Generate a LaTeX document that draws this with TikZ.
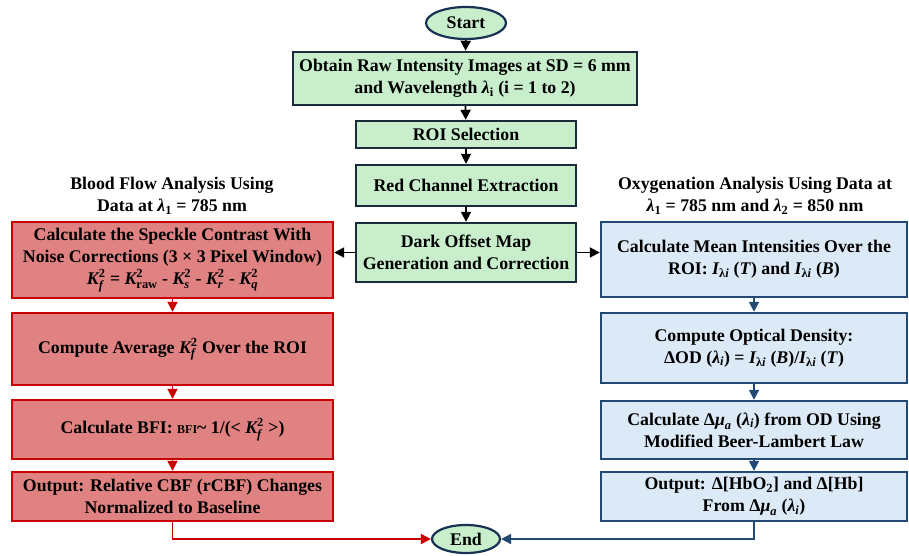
\documentclass[tikz,border=0pt]{standalone}
\usepackage{amsmath}
\usepackage{fontspec}
\setmainfont{Liberation Serif}
\usetikzlibrary{arrows.meta,shapes.geometric}
\definecolor{gfill}{RGB}{200,238,204}
\definecolor{gline}{RGB}{24,44,60}
\definecolor{rfill}{RGB}{224,130,130}
\definecolor{rline}{RGB}{200,0,0}
\definecolor{bfill}{RGB}{220,233,246}
\definecolor{bline}{RGB}{34,72,118}
\newcommand{\SubSup}[3]{\ensuremath{\text{#1}^{\text{#2}}_{\text{#3}}}}
\newcommand{\SubOnly}[2]{\ensuremath{\text{#1}_{\text{#2}}}}
\newcommand{\Kf}{\SubSup{\itshape K}{2}{\itshape f}}
\tikzset{
  base/.style={font=\fontsize{17.8}{22}\selectfont\bfseries, align=center, inner sep=0pt},
  gbox/.style={base, draw=gline, fill=gfill, line width=2.4pt},
  rbox/.style={base, draw=rline, fill=rfill, line width=2.4pt},
  bbox/.style={base, draw=bline, fill=bfill, line width=2.4pt},
  term/.style={base, ellipse, draw=bline!70!black, fill=gfill, line width=2.2pt},
  head/.style={base},
  karr/.style={-{Triangle[length=10pt,width=10pt]}, line width=1.8pt, black},
  rarr/.style={-{Triangle[length=10pt,width=10pt]}, line width=1.8pt, rline},
  barr/.style={-{Triangle[length=10pt,width=10pt]}, line width=1.8pt, bline},
}
\begin{document}
\begin{tikzpicture}[x=1pt,y=-1pt]
\useasboundingbox (0,0) rectangle (909,555);
% center column
\node[term, minimum width=80pt, minimum height=32pt] (start) at (466,23) {Start};
\node[gbox, minimum width=344pt, minimum height=53pt] (obtain) at (465,78.5) {Obtain Raw Intensity Images at SD = 6 mm\\and Wavelength \SubOnly{\itshape λ}{i} (i = 1 to 2)};
\node[gbox, minimum width=220pt, minimum height=27pt] (roi) at (466,134.5) {ROI Selection};
\node[gbox, minimum width=220pt, minimum height=41pt] (redch) at (466,185.5) {Red Channel Extraction};
\node[gbox, minimum width=220pt, minimum height=59pt] (dark) at (466,252.5) {Dark Offset Map\\Generation and Correction};
\node[term, minimum width=68pt, minimum height=28pt] (end) at (466,539) {End};
% headings
\node[head] (lhead) at (172,196) {Blood Flow Analysis Using\\Data at \SubOnly{\itshape λ}{1} = 785 nm};
\node[head] (rhead) at (755,196) {Oxygenation Analysis Using Data at\\\SubOnly{\itshape λ}{1} = 785 nm and \SubOnly{\itshape λ}{2} = 850 nm};
% left column
\node[rbox, minimum width=321pt, minimum height=76pt] (r1) at (172.5,260) {Calculate the Speckle Contrast With\\Noise Corrections (3 × 3 Pixel Window)\\\Kf{} = \SubSup{\itshape K}{2}{raw} - \SubSup{\itshape K}{2}{\itshape s} - \SubSup{\itshape K}{2}{\itshape r} - \SubSup{\itshape K}{2}{\itshape q}};
\node[rbox, minimum width=321pt, minimum height=72pt] (r2) at (172.5,349) {Compute Average \Kf{} Over the ROI};
\node[rbox, minimum width=321pt, minimum height=59pt] (r3) at (172.5,429.5) {Calculate BFI: {\fontsize{12}{14}\selectfont BFI}\textasciitilde{} 1/(< \Kf{} >)};
\node[rbox, minimum width=321pt, minimum height=49pt] (r4) at (172.5,496.5) {Output: Relative CBF (rCBF) Changes\\Normalized to Baseline};
% right column
\node[bbox, minimum width=306pt, minimum height=75pt] (b1) at (754,259.5) {Calculate Mean Intensities Over the\\ROI: \SubOnly{\itshape I}{λ\itshape i} (\textit{T}) and \SubOnly{\itshape I}{λ\itshape i} (\textit{B})};
\node[bbox, minimum width=306pt, minimum height=70pt] (b2) at (754,348) {Compute Optical Density:\\ΔOD (\SubOnly{\itshape λ}{\itshape i}) = \SubOnly{\itshape I}{λ\itshape i} (\textit{B})/\SubOnly{\itshape I}{λ\itshape i} (\textit{T})};
\node[bbox, minimum width=306pt, minimum height=58pt] (b3) at (754,430) {Calculate Δ\SubOnly{\itshape μ}{\itshape a} (\SubOnly{\itshape λ}{\itshape i}) from OD Using\\Modified Beer-Lambert Law};
\node[bbox, minimum width=306pt, minimum height=49pt] (b4) at (754,496.5) {Output: Δ[Hb\SubOnly{O}{2}] and Δ[Hb]\\From Δ\SubOnly{\itshape μ}{\itshape a} (\SubOnly{\itshape λ}{\itshape i})};
% connectors
\draw[karr] (start) -- (obtain);
\draw[karr] (obtain) -- (roi);
\draw[karr] (roi) -- (redch);
\draw[karr] (redch) -- (dark);
\draw[karr] (dark.west) -- (dark.west -| r1.east);
\draw[karr] (dark.east) -- (dark.east -| b1.west);
\draw[rarr] (r1) -- (r2);
\draw[rarr] (r2) -- (r3);
\draw[rarr] (r3) -- (r4);
\draw[barr] (b1) -- (b2);
\draw[barr] (b2) -- (b3);
\draw[barr] (b3) -- (b4);
\draw[rarr] (r4.south) |- (end.west);
\draw[barr] (b4.south) |- (end.east);
\end{tikzpicture}
\end{document}
